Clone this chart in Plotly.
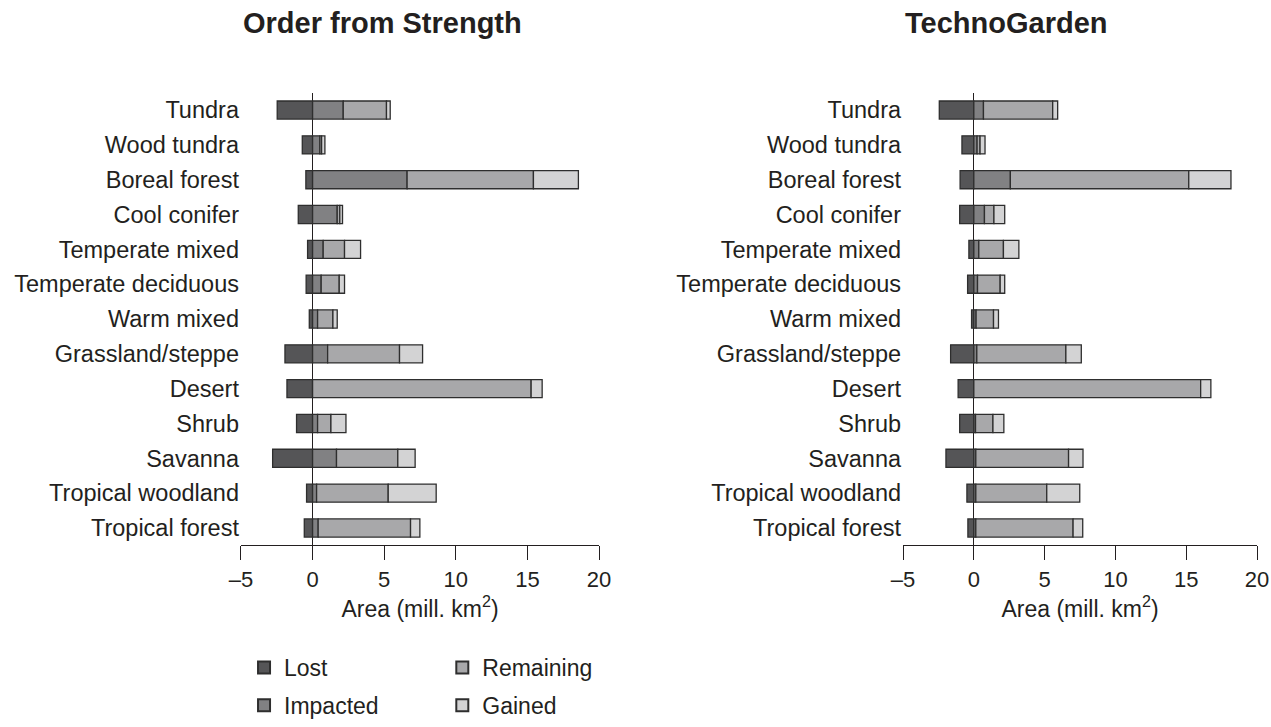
import plotly.graph_objects as go
from plotly.subplots import make_subplots

biomes = ["Tundra", "Wood tundra", "Boreal forest", "Cool conifer", "Temperate mixed",
          "Temperate deciduous", "Warm mixed", "Grassland/steppe", "Desert", "Shrub",
          "Savanna", "Tropical woodland", "Tropical forest"]

# segment lengths (mill. km2): lost is negative, the others stack to the right of zero
ofs_lost = [-2.47, -0.72, -0.47, -1.0, -0.35, -0.45, -0.23, -1.93, -1.79, -1.12, -2.79, -0.42, -0.58]
ofs_impacted = [2.14, 0.51, 6.6, 1.72, 0.74, 0.6, 0.35, 1.05, 0.0, 0.35, 1.67, 0.28, 0.39]
ofs_remaining = [3.02, 0.12, 8.82, 0.18, 1.49, 1.26, 1.07, 5.02, 15.26, 0.93, 4.28, 5.0, 6.45]
ofs_gained = [0.26, 0.23, 3.14, 0.19, 1.12, 0.37, 0.3, 1.61, 0.77, 1.05, 1.21, 3.35, 0.65]

tg_lost = [-2.44, -0.84, -0.97, -1.0, -0.35, -0.44, -0.16, -1.64, -1.11, -1.0, -1.97, -0.49, -0.42]
tg_impacted = [0.68, 0.23, 2.58, 0.75, 0.35, 0.26, 0.16, 0.21, 0.0, 0.12, 0.14, 0.14, 0.14]
tg_remaining = [4.89, 0.21, 12.6, 0.67, 1.74, 1.6, 1.23, 6.29, 16.02, 1.23, 6.55, 5.01, 6.87]
tg_gained = [0.35, 0.35, 2.98, 0.76, 1.09, 0.32, 0.35, 1.09, 0.72, 0.77, 1.02, 2.33, 0.68]

tick_vals = [-5, 0, 5, 10, 15, 20]
tick_text = ["\u20135", "0", "5", "10", "15", "20"]

names = ["Lost", "Impacted", "Remaining", "Gained"]
colors = ["#555557", "#818183", "#a8a8aa", "#d3d3d4"]
legends = ["legend", "legend", "legend2", "legend2"]

FONT = "Liberation Sans, Arial, sans-serif"
INK = "#231f20"

fig = make_subplots(rows=1, cols=2)

scenarios = [
    [ofs_lost, ofs_impacted, ofs_remaining, ofs_gained],
    [tg_lost, tg_impacted, tg_remaining, tg_gained],
]

for col, series in enumerate(scenarios, start=1):
    for name, vals, color, leg in zip(names, series, colors, legends):
        fig.add_trace(go.Bar(
            x=vals, y=biomes, orientation="h", name=name,
            marker=dict(color=color, line=dict(color="#2e2e2e", width=1.3)),
            width=0.52, showlegend=(col == 1), legend=leg, legendgroup=name,
        ), row=1, col=col)

domains = [[0.1896, 0.4713], [0.7105, 0.989]]
for col, dom in enumerate(domains, start=1):
    fig.update_xaxes(
        domain=dom, range=[-5, 20], tickvals=tick_vals, ticktext=tick_text,
        showline=True, linecolor=INK, linewidth=1.2,
        ticks="outside", ticklen=14, tickwidth=1.2, tickcolor=INK,
        showgrid=False, zeroline=True, zerolinecolor=INK, zerolinewidth=1.3,
        tickfont=dict(family=FONT, size=22, color=INK), automargin=False,
        ticklabeloverflow="allow",
        title=dict(text="Area (mill. km<sup>2</sup>)", font=dict(family=FONT, size=23, color=INK), standoff=6),
        row=1, col=col)
    fig.update_yaxes(
        domain=[0.2498, 0.8726], categoryorder="array", categoryarray=biomes[::-1],
        range=[-0.5, 12.5],
        showline=False, showgrid=False, zeroline=False, ticks="",
        tickfont=dict(family=FONT, size=23.5, color=INK), ticklabelstandoff=1,
        automargin=False,
        row=1, col=col)

title_font = dict(family=FONT, size=29, color=INK)
for dom, title in zip(domains, ["Order from Strength", "TechnoGarden"]):
    fig.add_annotation(text="<b>%s</b>" % title, x=dom[0], y=0.968, xref="paper", yref="paper",
                       showarrow=False, font=title_font, xanchor="left", yanchor="middle")

# legends must stay inside the figure, otherwise the page grows taller than the window
legend_style = dict(orientation="v", yanchor="bottom", xanchor="left", y=0,
                    font=dict(family=FONT, size=23, color=INK), tracegroupgap=5,
                    bgcolor="rgba(0,0,0,0)", itemsizing="constant")

fig.update_layout(
    barmode="relative", bargap=0.48,
    width=1271, height=727,
    margin=dict(l=0, r=0, t=0, b=0),
    paper_bgcolor="white", plot_bgcolor="white",
    font=dict(family=FONT, size=22, color=INK),
    legend=dict(legend_style, x=0.192),
    legend2=dict(legend_style, x=0.348),
)

fig.write_html(
    "out.html",
    config={"displayModeBar": False},
    post_script="document.body.style.margin='0';"
                "document.body.style.overflow='hidden';"
                "document.documentElement.style.overflow='hidden';",
)
